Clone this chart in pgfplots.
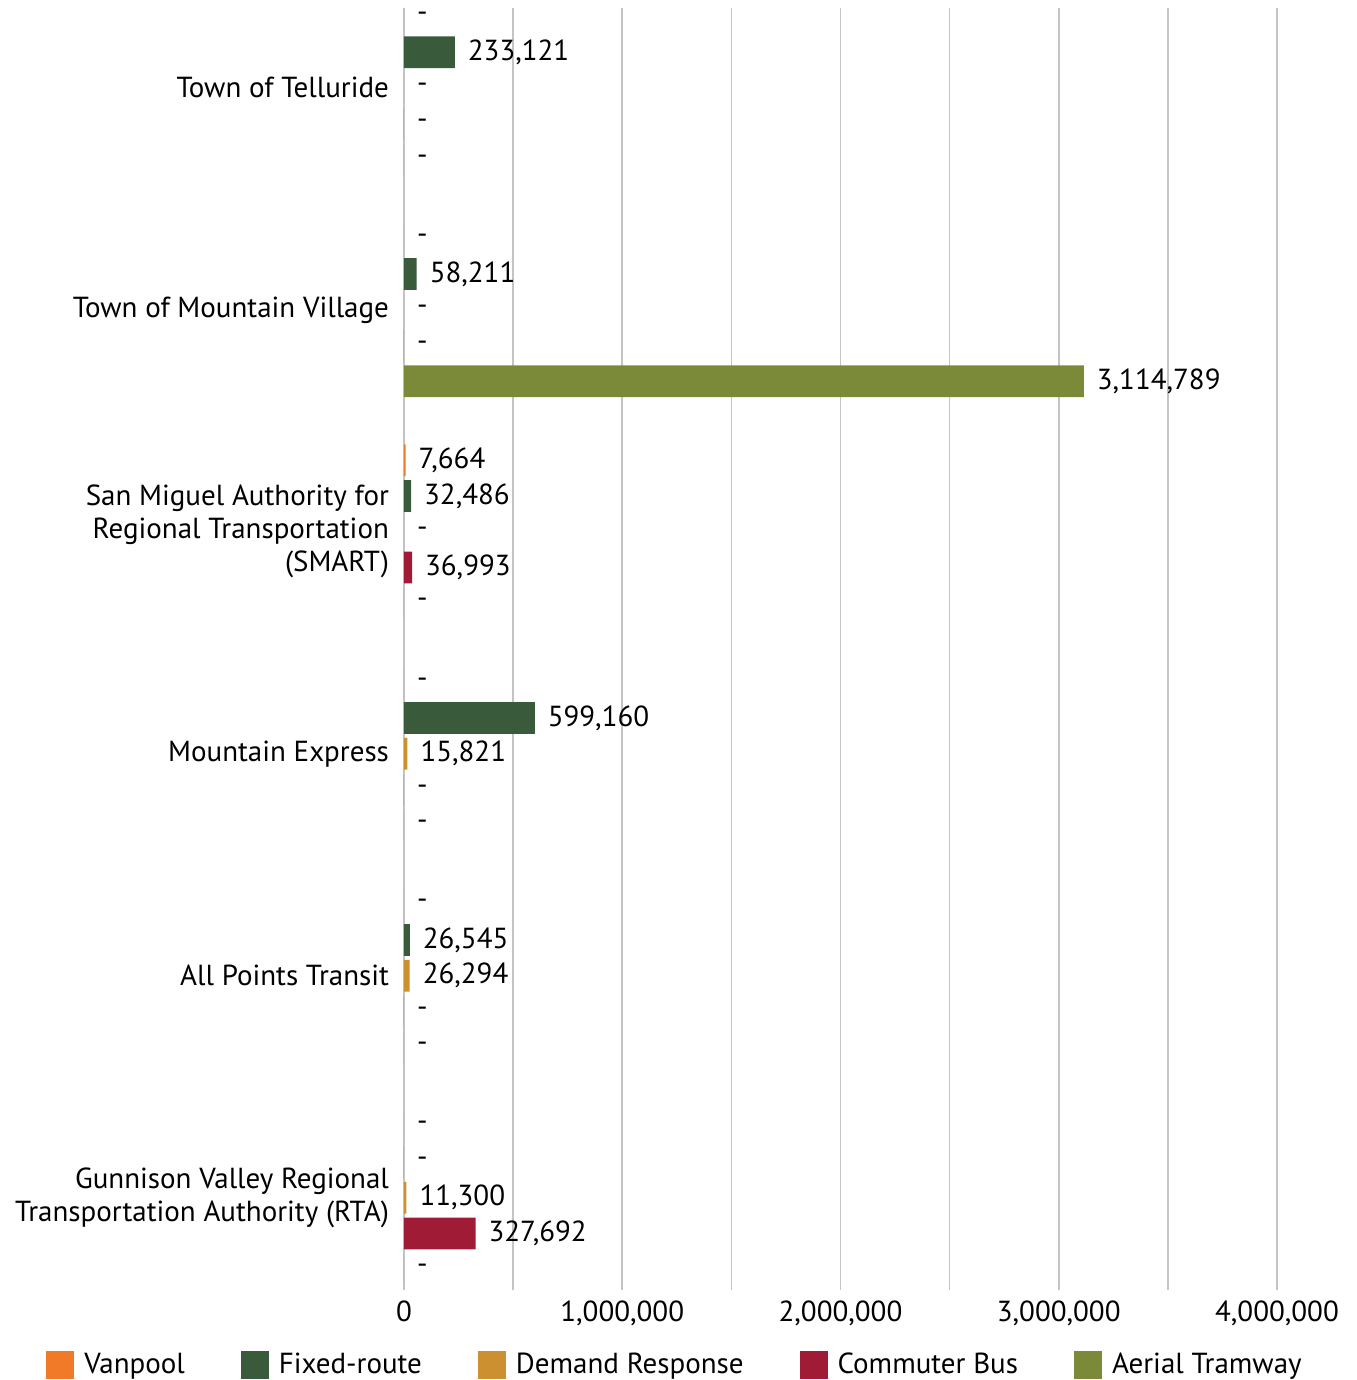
\documentclass[border=0pt]{standalone}
\usepackage{fontspec}
\setmainfont{PT Sans}
\usepackage{pgfplots}
\pgfplotsset{compat=1.18}
\definecolor{vanpool}{HTML}{F07A28}
\definecolor{fixedroute}{HTML}{395B3B}
\definecolor{demand}{HTML}{CC9030}
\definecolor{commuter}{HTML}{A01C36}
\definecolor{tramway}{HTML}{7A8A38}
\definecolor{gridgray}{HTML}{C4C4C4}
\newcommand{\lblfont}{\fontsize{14.5}{16.5}\selectfont}

\begin{document}
\begin{tikzpicture}
\begin{axis}[
    scale only axis, width=436.5pt, height=637pt,
    xbar, bar width=0.143,
    xmin=0, xmax=4000000,
    ymin=-0.36, ymax=5.38, y dir=reverse,
    ytick={0,...,5},
    yticklabels={Town of Telluride, Town of Mountain Village,
        {San Miguel Authority for\\Regional Transportation\\(SMART)},
        Mountain Express, All Points Transit,
        {Gunnison Valley Regional\\Transportation Authority (RTA)}},
    yticklabel style={align=right, font=\lblfont, xshift=0pt},
    ytick style={draw=none},
    xtick={0,1000000,2000000,3000000,4000000},
    xticklabels={0,{1,000,000},{2,000,000},{3,000,000},{4,000,000}},
    scaled x ticks=false,
    minor xtick={500000,1500000,2500000,3500000},
    xtick pos=left,
    xticklabel style={font=\lblfont, yshift=-2pt},
    xmajorgrids, xminorgrids,
    grid style={gridgray, line width=0.75pt},
    minor grid style={gridgray, line width=0.75pt},
    tick align=outside, major tick length=4pt, minor tick length=4pt,
    tick style={gridgray, line width=0.75pt},
    axis line style={draw=none},
    point meta=explicit symbolic,
    nodes near coords={\pgfplotspointmeta},
    every node near coord/.append style={font=\lblfont, anchor=west, xshift=3pt, text=black},
    legend columns=5,
    legend style={at={(axis description cs:0.3116,-0.0652)}, anchor=center,
        draw=none, fill=none, font=\lblfont,
        /tikz/every odd column/.append style={column sep=3pt},
        /tikz/every even column/.append style={column sep=26pt}},
    legend image code/.code={\fill[#1] (0pt,-7pt) rectangle (14pt,7pt);},
]
% categories: 0 Telluride, 1 Mountain Village, 2 SMART, 3 Mountain Express, 4 All Points, 5 Gunnison
\addplot[fill=vanpool, draw=none, bar shift=-0.322] coordinates {
    (0,0) [-] (0,1) [-] (7664,2) [7{,}664] (0,3) [-] (0,4) [-] (0,5) [-]};
\addplot[fill=fixedroute, draw=none, bar shift=-0.161] coordinates {
    (233121,0) [233{,}121] (58211,1) [58{,}211] (32486,2) [32{,}486]
    (599160,3) [599{,}160] (26545,4) [26{,}545] (0,5) [-]};
\addplot[fill=demand, draw=none, bar shift=0] coordinates {
    (0,0) [-] (0,1) [-] (0,2) [-] (15821,3) [15{,}821] (26294,4) [26{,}294] (11300,5) [11{,}300]};
\addplot[fill=commuter, draw=none, bar shift=0.161] coordinates {
    (0,0) [-] (0,1) [-] (36993,2) [36{,}993] (0,3) [-] (0,4) [-] (327692,5) [327{,}692]};
\addplot[fill=tramway, draw=none, bar shift=0.322] coordinates {
    (0,0) [-] (3114789,1) [3{,}114{,}789] (0,2) [-] (0,3) [-] (0,4) [-] (0,5) [-]};
\legend{Vanpool, Fixed-route, Demand Response, Commuter Bus, Aerial Tramway}
\end{axis}
\pgfresetboundingbox
\path (current axis.south west) ++(-202pt,-49pt) rectangle ++(678pt,690pt);
\end{tikzpicture}
\end{document}
